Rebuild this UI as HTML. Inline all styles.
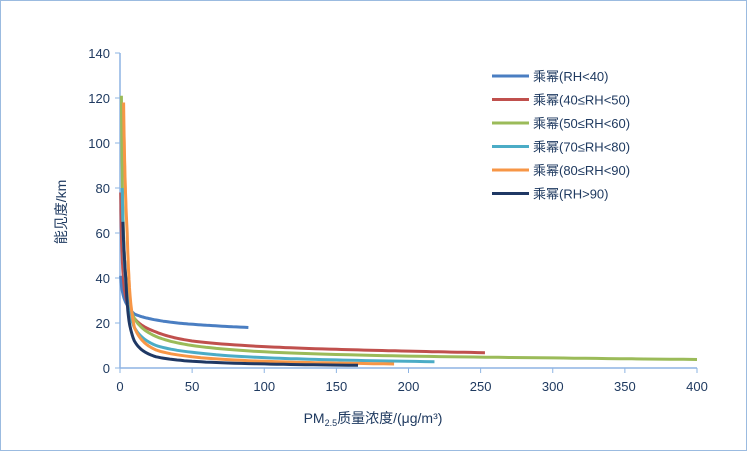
<!DOCTYPE html>
<html><head><meta charset="utf-8"><style>
body{margin:0;background:#fff}
svg text{font-family:"Liberation Sans","Noto Sans CJK SC",sans-serif;fill:#1f3a60}
</style></head><body>
<svg width="747" height="451">
<rect x="0.5" y="0.5" width="746" height="450" fill="#fff" stroke="#9bbbe0"/>
<g id="axes"></g><g id="series"></g><g id="legend"></g>
<text x="0" y="0" transform="translate(66,212) rotate(-90)" text-anchor="middle" font-size="14">能见度/km</text>
<text x="373" y="423" text-anchor="middle" font-size="14">PM<tspan font-size="9" dy="3">2.5</tspan><tspan dy="-3">质量浓度/(μg/m³)</tspan></text>
</svg>
<script>
const xTicks=[0,50,100,150,200,250,300,350,400];
const yTicks=[0,20,40,60,80,100,120,140];
const seriesNames=["乘幂(RH<40)","乘幂(40≤RH<50)","乘幂(50≤RH<60)","乘幂(70≤RH<80)","乘幂(80≤RH<90)","乘幂(RH>90)"];
const colors=["#4a7ec2","#c0504d","#9bbb59","#4bacc6","#f79646","#1f3864"];
const s1x=[0.5,2,5,10,20,40,60,89], s1y=[41,33,28,24,22,20,19,18];
const s2x=[0.5,1.5,3,6,10,25,50,100,150,200,253], s2y=[78,50,35,27,22,16,12,9.5,8.3,7.5,6.8];
const s3x=[1,2,3,6,10,25,50,100,200,300,400], s3y=[121,70,50,30,22,14,10,7.2,5.3,4.5,3.8];
const s4x=[1.5,3,6,10,25,50,100,150,218], s4y=[80,48,27,18,10,7,4.6,3.6,2.8];
const s5x=[2.5,3.5,5,7,10,25,50,100,150,190], s5y=[118,85,60,32,18,8,5,3,2.2,1.8];
const s6x=[2,3,4,6,10,25,50,100,165], s6y=[65,50,40,22,12,5,3,1.8,1.2];
const X=v=>120+v*(697-120)/400, Y=v=>368-v*(368-53)/140;
const ns="http://www.w3.org/2000/svg";
function mk(t,a,p){const e=document.createElementNS(ns,t);for(const k in a)e.setAttribute(k,a[k]);p.appendChild(e);return e;}
const ax=document.getElementById('axes');
const xl=mk('line',{x1:X(0),y1:Y(0),x2:X(400),y2:Y(0),stroke:'#8eb4e3','stroke-width':1.5},ax);


const yl=mk('line',{x1:X(0),y1:Y(0),x2:X(0),y2:Y(140),stroke:'#8eb4e3','stroke-width':1.5},ax);


xTicks.forEach(v=>{mk('line',{x1:X(v),y1:Y(0),x2:X(v),y2:Y(0)+5,stroke:'#8eb4e3'},ax);
const t=mk('text',{x:X(v),y:Y(0)+23,'text-anchor':'middle','font-size':13},ax);t.textContent=v;

});
yTicks.forEach(v=>{mk('line',{x1:X(0)-5,y1:Y(v),x2:X(0),y2:Y(v),stroke:'#8eb4e3'},ax);
const t=mk('text',{x:X(0)-10,y:Y(v)+5,'text-anchor':'end','font-size':13},ax);t.textContent=v;

});
const allS=[[s1x,s1y],[s2x,s2y],[s3x,s3y],[s4x,s4y],[s5x,s5y],[s6x,s6y]];
const sg=document.getElementById('series');
allS.forEach((s,i)=>{const [xs,ys]=s;let pts=[];
for(let j=0;j<xs.length-1;j++){const lx0=Math.log(xs[j]),lx1=Math.log(xs[j+1]),ly0=Math.log(ys[j]),ly1=Math.log(ys[j+1]);
for(let k=0;k<12;k++){const f=k/12;pts.push(X(Math.exp(lx0+(lx1-lx0)*f)).toFixed(1)+','+Y(Math.exp(ly0+(ly1-ly0)*f)).toFixed(1));}}
pts.push(X(xs[xs.length-1])+','+Y(ys[ys.length-1]));
const p=mk('polyline',{points:pts.join(' '),fill:'none',stroke:colors[i],'stroke-width':3,'stroke-linejoin':'round'},sg);

});
const lg=document.getElementById('legend');
seriesNames.forEach((n,i)=>{const y=76+i*23.5;
const l=mk('line',{x1:492,y1:y,x2:529,y2:y,stroke:colors[i],'stroke-width':3},lg);


const t=mk('text',{x:533,y:y+5,'font-size':13},lg);t.textContent=n;

});
</script>
</body></html>
